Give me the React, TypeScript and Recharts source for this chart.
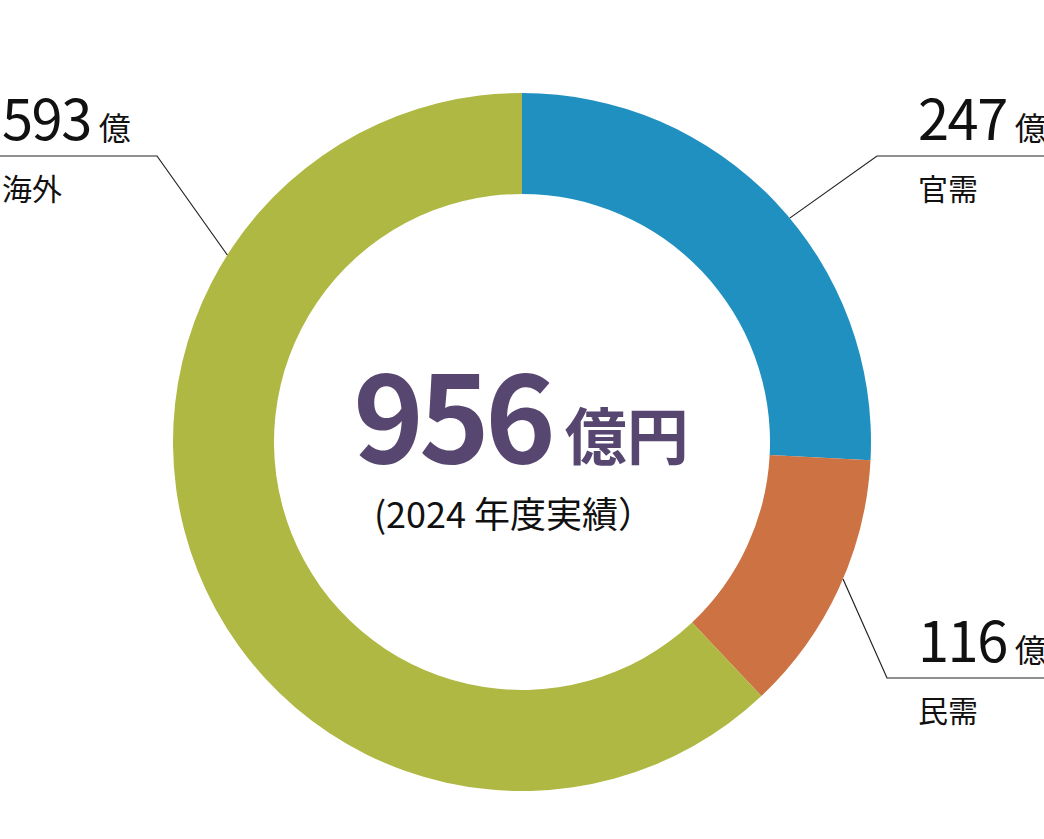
import React from "react";
import { Cell, Label, Pie, PieChart } from "recharts";

// 2024年度 売上内訳（億円）
const segments = ["官需", "民需", "海外"];
const amounts = [247, 116, 593];
const colors = ["#2090C1", "#CD7243", "#AEB842"];

const totalLabel = "956";
const totalUnit = "億円";
const yearLabel = "(2024 年度実績）";
const unit = "億";

const data = segments.map((name, i) => ({
  name,
  value: amounts[i],
}));

const CX = 522;
const CY = 442;

// leader line layout, relative to the pie centre
const labelLayout = [
  { angle: 39.9, elbowX: 355, elbowY: -286, endX: 522, textX: 396 },
  { angle: -23.1, elbowX: 365, elbowY: 236, endX: 522, textX: 396 },
  { angle: 147.6, elbowX: -365, elbowY: -286, endX: -522, textX: -520 },
];

const FONT = '"Noto Sans CJK JP", "Noto Sans", sans-serif';
const RAD = Math.PI / 180;

const renderLabel = (props: any) => {
  const { outerRadius, index } = props;
  const cx = CX;
  const cy = CY;
  const l = labelLayout[index];
  const sx = cx + outerRadius * Math.cos(l.angle * RAD);
  const sy = cy - outerRadius * Math.sin(l.angle * RAD);
  const ex = cx + l.elbowX;
  const ey = cy + l.elbowY;
  const tx = cx + l.textX;

  return (
    <g key={`label-${index}`}>
      <polyline
        points={`${sx},${sy} ${ex},${ey} ${cx + l.endX},${ey}`}
        fill="none"
        stroke="#222"
        strokeWidth={1.2}
      />
      <text
        x={tx}
        y={ey - 16}
        fill="#111"
        fontFamily={FONT}
        textAnchor="start"
      >
        <tspan fontSize={56} letterSpacing={-1.5}>
          {amounts[index]}
        </tspan>
        <tspan fontSize={32} dx={8}>
          {unit}
        </tspan>
      </text>
      <text
        x={tx}
        y={ey + 44}
        fill="#111"
        fontFamily={FONT}
        fontSize={30}
        textAnchor="start"
      >
        {segments[index]}
      </text>
    </g>
  );
};

const renderCenter = () => (
  <g>
    <text
      x={CX - 1}
      y={CY + 21}
      textAnchor="middle"
      fontFamily={FONT}
      fontWeight={700}
      fill="#574770"
    >
      <tspan fontSize={120} letterSpacing={-5}>
        {totalLabel}
      </tspan>
      <tspan fontSize={62} dx={14} dy={-3}>
        {totalUnit}
      </tspan>
    </text>
    <text
      x={CX - 8}
      y={CY + 86}
      textAnchor="middle"
      fontFamily={FONT}
      fontSize={36}
      fill="#111"
    >
      {yearLabel}
    </text>
  </g>
);

export default function App() {
  return (
    <div
      style={{
        position: "absolute",
        left: 0,
        top: 0,
        width: 1044,
        height: 839,
        background: "#fff",
        overflow: "hidden",
      }}
    >
      <PieChart width={1044} height={839} margin={{ top: 0, right: 0, bottom: 0, left: 0 }}>
        <Pie
          data={data}
          dataKey="value"
          nameKey="name"
          cx={CX}
          cy={CY}
          innerRadius={248}
          outerRadius={349}
          startAngle={90}
          endAngle={-270}
          stroke="none"
          label={renderLabel}
          labelLine={false}
          isAnimationActive={false}
        >
          {data.map((d, i) => (
            <Cell key={d.name} fill={colors[i]} />
          ))}
          <Label position="center" content={renderCenter} />
        </Pie>
      </PieChart>
    </div>
  );
}
